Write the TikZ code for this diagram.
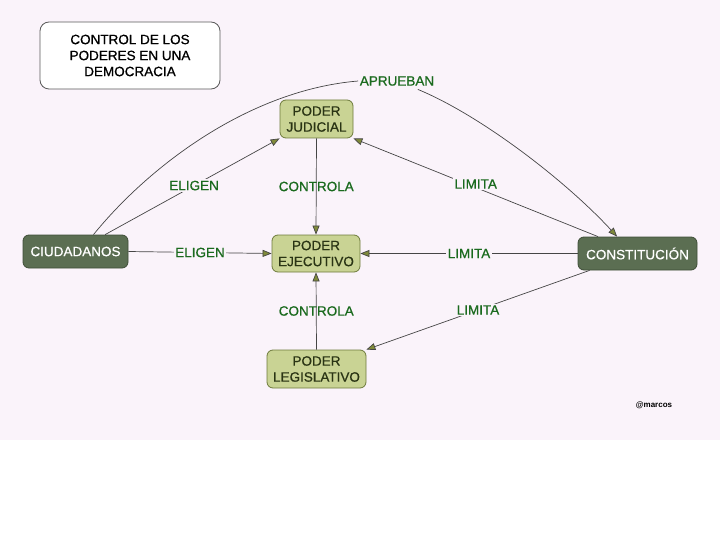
\documentclass[tikz,border=0pt]{standalone}
\usepackage{fontspec}
\setmainfont{Liberation Sans}
\newfontface\semib{Liberation Sans}[FakeBold=0.7]
\usetikzlibrary{arrows.meta,calc}
\definecolor{bgc}{HTML}{FAF3FA}
\definecolor{olivefill}{HTML}{C9D394}
\definecolor{olivedraw}{HTML}{6E7B3C}
\definecolor{olivetext}{HTML}{2A3414}
\definecolor{dkfill}{HTML}{5B6E52}
\definecolor{dkdraw}{HTML}{3E4D37}
\definecolor{lblgreen}{HTML}{1A6A1E}
\definecolor{linec}{HTML}{454545}
\definecolor{tipfill}{HTML}{7F8A3A}
\tikzset{
  txt/.style={font=\fontsize{13.5}{16}\selectfont\semib, align=center, inner sep=0pt},
  titlebox/.style={txt, draw=black!65, fill=white, rounded corners=9pt, line width=0.8pt},
  powerbox/.style={txt, draw=olivedraw, fill=olivefill, text=olivetext, rounded corners=6pt, line width=0.8pt},
  darkbox/.style={txt, draw=dkdraw, fill=dkfill, text=white, rounded corners=6pt, line width=0.8pt},
  lbl/.style={font=\fontsize{13.5}{16}\selectfont\semib, text=lblgreen, inner sep=1.5pt},
  lblf/.style={lbl, fill=bgc},
  conn/.style={draw=linec, line width=0.7pt},
  arr/.style={conn, -{Triangle[length=9pt,width=7pt,fill=tipfill]}}
}
\begin{document}
\begin{tikzpicture}[x=1pt,y=-1pt]
\useasboundingbox (0,0) rectangle (720,540);
\fill[white] (0,0) rectangle (720,540);
\fill[bgc] (0,0) rectangle (720,440);

\node[titlebox, minimum width=180pt, minimum height=67pt] (title) at (130,55.5) {CONTROL DE LOS\\PODERES EN UNA\\DEMOCRACIA};

\node[powerbox, minimum width=73pt, minimum height=38pt] (jud) at (316.5,119) {PODER\\JUDICIAL};
\node[powerbox, minimum width=88pt, minimum height=37pt] (eje) at (316,253.5) {PODER\\EJECUTIVO};
\node[powerbox, minimum width=99pt, minimum height=38pt] (leg) at (316.5,369) {PODER\\LEGISLATIVO};
\node[darkbox, minimum width=105pt, minimum height=33pt] (ciu) at (75.5,251.5) {CIUDADANOS};
\node[darkbox, minimum width=119pt, minimum height=33pt] (con) at (637.5,253.5) {CONSTITUCIÓN};

\node[lbl] (apr) at (397,81) {APRUEBAN};

% CIUDADANOS - APRUEBAN - CONSTITUCION
\coordinate (c1) at ($(ciu.north west)!0.67!(ciu.north east)$);
\coordinate (k1) at ($(con.north west)!0.33!(con.north east)$);
\draw[conn] (c1) .. controls (150,165) and (250,90) .. (apr.west);
\draw[arr] ($(apr.south east)+(-18,2)$) .. controls (480,115) and (565,180) .. (k1);

% CIUDADANOS -> JUDICIAL
\coordinate (c2) at ($(ciu.north west)!0.78!(ciu.north east)$);
\draw[arr] (c2) -- node[lblf, pos=0.51] {ELIGEN} (jud.south west);

% CIUDADANOS -> EJECUTIVO
\draw[arr] (ciu.east) -- node[lblf] {ELIGEN} (eje.west);

% JUDICIAL -> EJECUTIVO
\draw[arr] (jud.south) -- node[lbl] {CONTROLA} (eje.north);
% LEGISLATIVO -> EJECUTIVO
\draw[arr] (leg.north) -- node[lbl] {CONTROLA} (eje.south);

% CONSTITUCION -> powers
\coordinate (k2) at ($(con.north west)!0.17!(con.north east)$);
\coordinate (k3) at ($(con.south west)!0.1!(con.south east)$);
\draw[arr] (k2) -- node[lblf, pos=0.5, yshift=3.5pt, inner sep=1pt] {LIMITA} (jud.south east);
\draw[arr] (con.west) -- node[lblf] {LIMITA} (eje.east);
\draw[arr] (k3) -- node[lblf, pos=0.5] {LIMITA} (leg.north east);

\node[font=\fontsize{8}{8}\selectfont\bfseries, inner sep=0pt] (sig) at (654,405.5) {@marcos};
\end{tikzpicture}
\end{document}
